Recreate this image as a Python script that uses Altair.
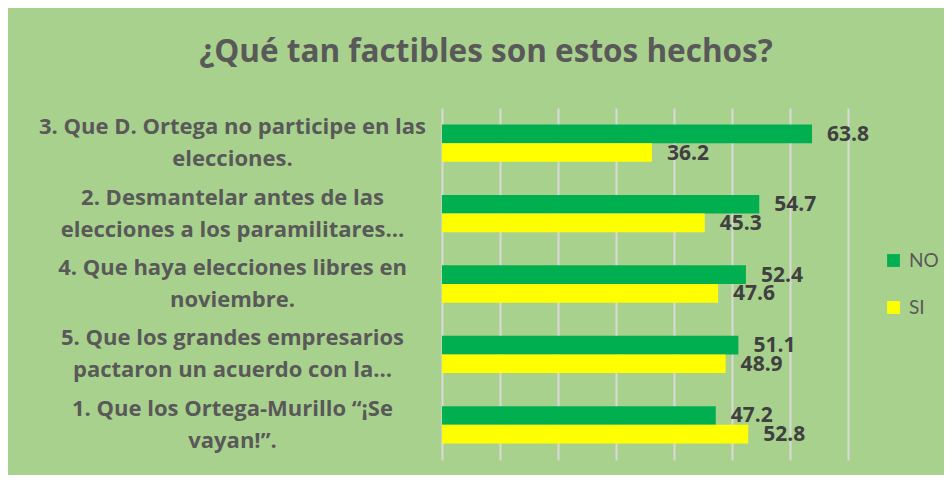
import altair as alt
import pandas as pd

categories = [
    "3. Que D. Ortega no participe en las|elecciones.",
    "2. Desmantelar antes de las|elecciones a los paramilitares…",
    "4. Que haya elecciones libres en|noviembre.",
    "5. Que los grandes empresarios|pactaron un acuerdo con la…",
    "1. Que los Ortega-Murillo “¡Se|vayan!”.",
]
no_values = [63.8, 54.7, 52.4, 51.1, 47.2]
si_values = [36.2, 45.3, 47.6, 48.9, 52.8]
series = ["NO", "SI"]
colors = ["#00b050", "#ffff00"]
x_ticks = [0, 10, 20, 30, 40, 50, 60, 70]
title_text = "¿Qué tan factibles son estos hechos?"

rows = []
for c, n, s in zip(categories, no_values, si_values):
    rows.append({"cat": c, "serie": "NO", "valor": n})
    rows.append({"cat": c, "serie": "SI", "valor": s})
df = pd.DataFrame(rows)

FONT = "Open Sans"
GRAY = "#595959"

y_enc = alt.Y(
    "cat:N",
    sort=categories,
    scale=alt.Scale(paddingInner=0.47, paddingOuter=0.235),
    axis=alt.Axis(
        title=None,
        labelExpr="split(datum.label, '|')",
        labelAlign="center",
        labelBaseline="middle",
        labelPadding=210,
        labelOffset=-16,
        ticks=False,
        domain=False,
        labelLimit=0,
        labelFont=FONT,
        labelFontWeight="bold",
        labelFontSize=22,
        labelColor=GRAY,
        labelLineHeight=32,
        labelOverlap=False,
    ),
)
yoff_enc = alt.YOffset("serie:N", sort=series)
x_enc = alt.X(
    "valor:Q",
    scale=alt.Scale(domain=[0, 70], nice=False),
    axis=alt.Axis(
        values=x_ticks,
        labels=False,
        ticks=False,
        domain=False,
        grid=True,
        gridColor="#d9d9d9",
        gridWidth=2,
        title=None,
    ),
)

base = alt.Chart(df).encode(y=y_enc, yOffset=yoff_enc, x=x_enc)

bars = base.mark_bar().encode(
    color=alt.Color(
        "serie:N",
        sort=series,
        scale=alt.Scale(domain=series, range=colors),
        legend=alt.Legend(
            title=None,
            orient="none",
            legendX=442,
            legendY=143,
            symbolType="square",
            symbolSize=165,
            symbolStrokeWidth=0,
            labelFont="Lato",
            labelFontSize=19,
            labelColor=GRAY,
            labelOffset=6,
            rowPadding=27,
            padding=0,
        ),
    )
)

labels = base.mark_text(
    align="left",
    baseline="middle",
    dx=15,
    dy=1,
    font=FONT,
    fontWeight="bold",
    fontSize=21,
    color="#404040",
).encode(text=alt.Text("valor:Q", format=".1f"))

chart = (
    alt.layer(bars, labels)
    .properties(
        width=406,
        height=352,
        autosize=alt.AutoSizeParams(type="none"),
        padding={"left": 434, "top": 100, "right": 96, "bottom": 15},
        background="#a9d18e",
        title=alt.TitleParams(
            title_text,
            font=FONT,
            fontWeight="bold",
            fontSize=31.5,
            color=GRAY,
            anchor="middle",
            frame="group",
            dx=-159,
            offset=15,
            baseline="alphabetic",
        ),
    )
    .configure_view(stroke=None)
)

chart.save("out.html", embed_options={"renderer": "svg", "actions": False})
